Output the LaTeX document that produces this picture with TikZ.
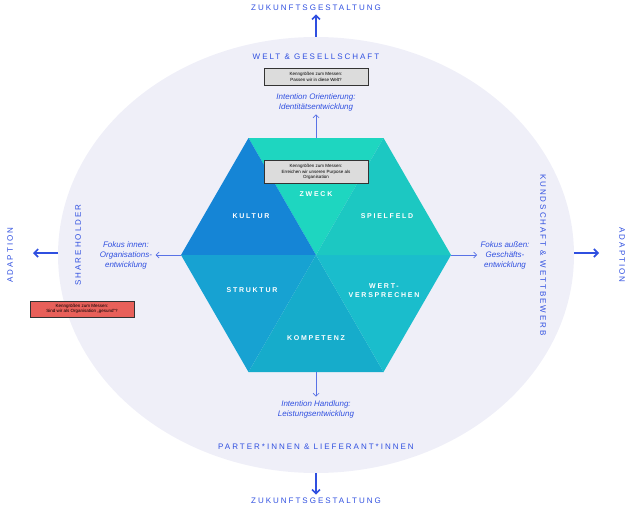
\documentclass[tikz,border=0pt]{standalone}
\usepackage{fontspec}
\setmainfont{Liberation Sans}
\newfontfamily\spc[LetterSpace=25]{Liberation Sans}
\usetikzlibrary{arrows.meta}
\definecolor{bl}{HTML}{2F4FE0}
\definecolor{ell}{HTML}{EFEFF8}
\definecolor{cZ}{HTML}{1ED6C0}
\definecolor{cK}{HTML}{1585D6}
\definecolor{cS}{HTML}{1CC8C2}
\definecolor{cT}{HTML}{17A2D2}
\definecolor{cP}{HTML}{16ACCB}
\definecolor{cW}{HTML}{1ABDCC}
\definecolor{gbox}{HTML}{DCDCDC}
\definecolor{rbox}{HTML}{E8605A}
\tikzset{
 captxt/.style={font=\spc\fontsize{8}{9}\selectfont, text=bl},
 seg/.style={font=\spc\fontsize{7}{9}\selectfont\bfseries, text=white, align=center},
 it/.style={font=\itshape\fontsize{8}{10}\selectfont, text=bl, align=center},
 box/.style={draw=black!80, line width=0.8pt, fill=gbox, font=\fontsize{4.5}{5.5}\selectfont, align=center, inner sep=1.5pt},
 bigarr/.style={draw=bl, line width=1.6pt, -{Straight Barb[length=4pt,width=8pt]}},
 smarr/.style={draw=bl!80, line width=0.7pt, -{Straight Barb[length=3pt,width=6pt]}},
}
\begin{document}
\begin{tikzpicture}[x=1pt,y=-1pt]
\useasboundingbox (0,0) rectangle (632,511);
\fill[ell] (316,255) ellipse [x radius=258, y radius=218];
\coordinate (c) at (316,255);
\coordinate (v0) at (451,255);
\coordinate (v1) at (383.5,138);
\coordinate (v2) at (248.5,138);
\coordinate (v3) at (181,255);
\coordinate (v4) at (248.5,372);
\coordinate (v5) at (383.5,372);
\fill[cZ] (c)--(v1)--(v2)--cycle;
\fill[cK] (c)--(v2)--(v3)--cycle;
\fill[cT] (c)--(v3)--(v4)--cycle;
\fill[cP] (c)--(v4)--(v5)--cycle;
\fill[cW] (c)--(v5)--(v0)--cycle;
\fill[cS] (c)--(v0)--(v1)--cycle;
\node[seg] (zweck) at (316,194) {ZWECK};
\node[seg] (kultur) at (251,216) {KULTUR};
\node[seg] (spiel) at (387,216) {SPIELFELD};
\node[seg] (strukt) at (252,290) {STRUKTUR};
\node[seg] (wert) at (384,291) {WERT-\\VERSPRECHEN};
\node[seg] (komp) at (316,338) {KOMPETENZ};
\node[box, minimum width=104pt, minimum height=23pt] (b2) at (316,172) {Kenngrößen zum Messen:\\Erreichen wir unseren Purpose als\\Organisation};
\node[box, minimum width=104pt, minimum height=17pt] (b1) at (316,77) {Kenngrößen zum Messen:\\Passen wir in diese Welt?};
\node[box, fill=rbox, minimum width=104pt, minimum height=16pt] (b3) at (82,309) {Kenngrößen zum Messen:\\Sind wir als Organisation „gesund“?};
\node[captxt] (top) at (316,8) {ZUKUNFTSGESTALTUNG};
\node[captxt] (bot) at (316,501) {ZUKUNFTSGESTALTUNG};
\node[captxt, rotate=90] (adl) at (10,255) {ADAPTION};
\node[captxt, rotate=-90] (adr) at (622,255) {ADAPTION};
\node[captxt] (welt) at (316,57) {WELT \& GESELLSCHAFT};
\node[captxt] (part) at (316,447) {PARTER*INNEN \& LIEFERANT*INNEN};
\node[captxt, rotate=90] (share) at (78,245) {SHAREHOLDER};
\node[captxt, rotate=-90] (kund) at (543,255) {KUNDSCHAFT \& WETTBEWERB};
\node[it] (io) at (316,102) {Intention Orientierung:\\Identitätsentwicklung};
\node[it] (ih) at (316,409) {Intention Handlung:\\Leistungsentwicklung};
\node[it] (fi) at (126,255) {Fokus innen:\\Organisations-\\entwicklung};
\node[it] (fa) at (505,255) {Fokus außen:\\Geschäfts-\\entwicklung};
\coordinate (et) at (316,37); \coordinate (eb) at (316,473);
\coordinate (el) at (58,253); \coordinate (er) at (574,253);
\coordinate (al) at (33,253); \coordinate (ar) at (599,253);
\draw[bigarr] (et) -- (top.south);
\draw[bigarr] (eb) -- (bot.north);
\draw[bigarr] (el) -- (al);
\draw[bigarr] (er) -- (ar);
\draw[smarr] (316,138) -- (io.south);
\draw[smarr] (316,372) -- (ih.north);
\draw[smarr] (v3) -- (fi.east);
\draw[smarr] (v0) -- (fa.west);
\end{tikzpicture}
\end{document}
